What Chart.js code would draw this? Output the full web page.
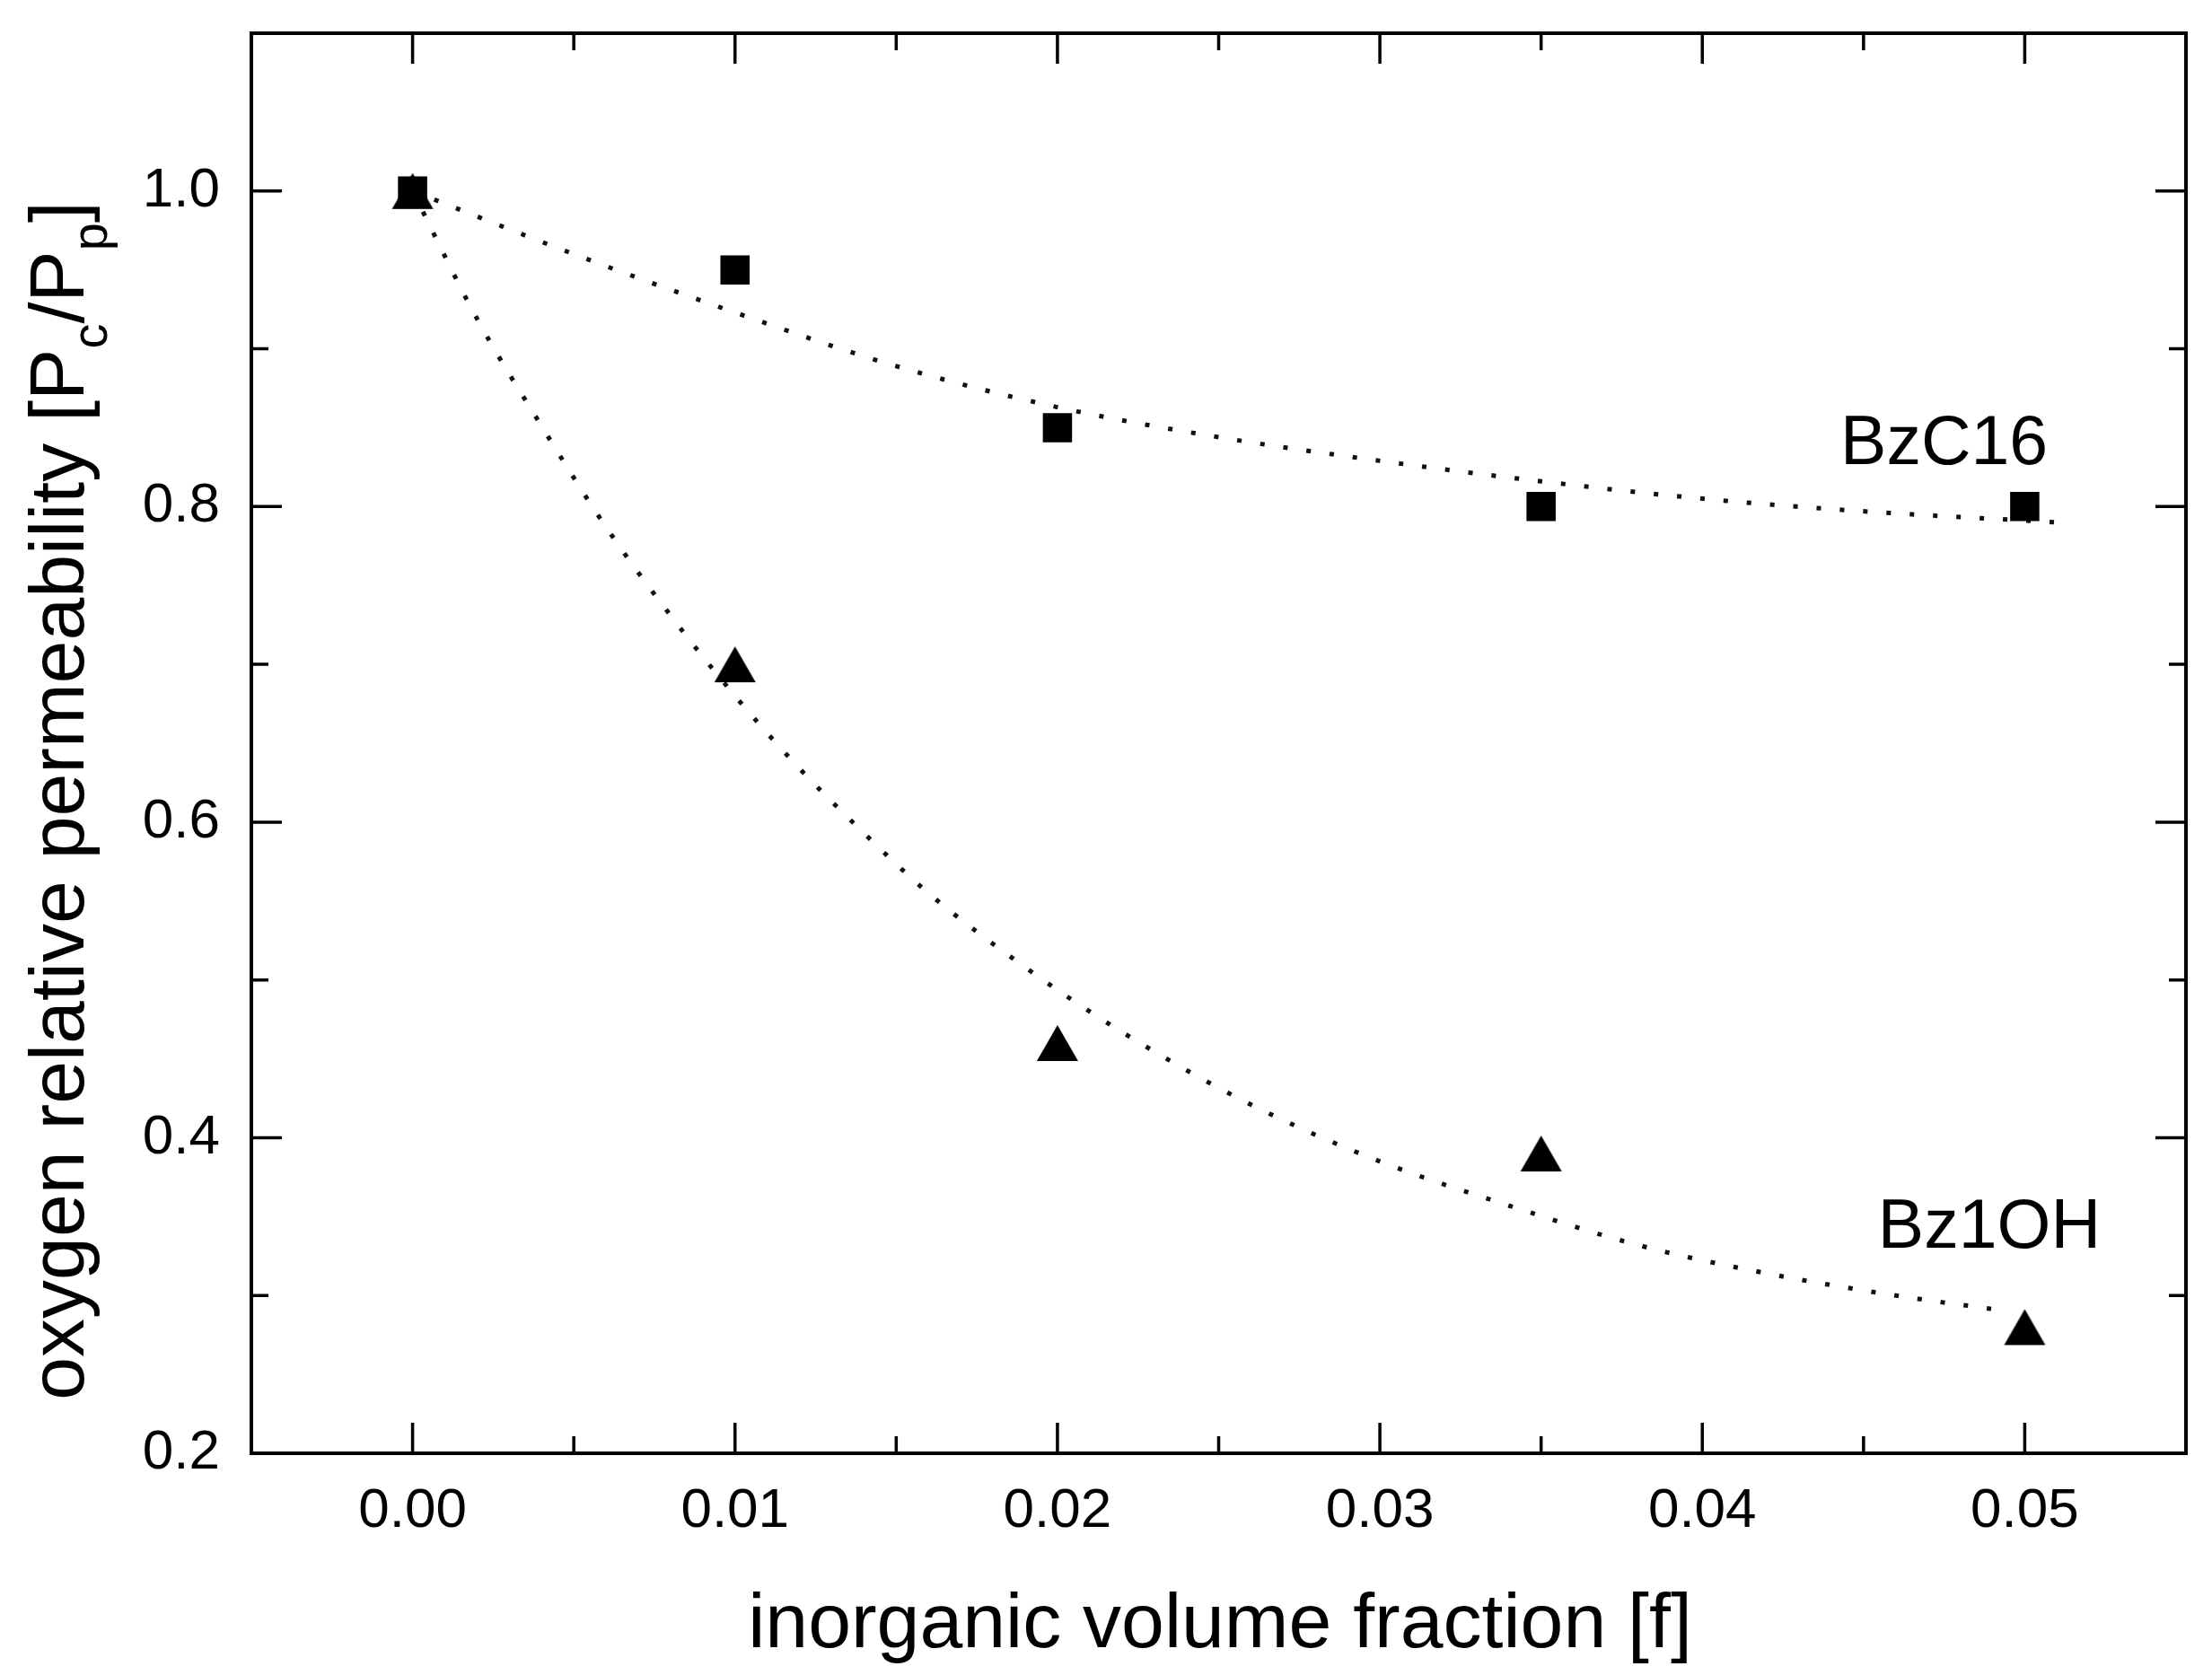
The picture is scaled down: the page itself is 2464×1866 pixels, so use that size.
<!DOCTYPE html>
<html><head><meta charset="utf-8">
<script src="https://cdn.jsdelivr.net/npm/chart.js@4.4.0/dist/chart.umd.min.js"></script>
<style>html,body{margin:0;padding:0;background:#fff;} canvas{display:block;}</style>
</head><body>
<canvas id="c" width="2464" height="1866" style="width:2464px;height:1866px"></canvas>
<script>
// ---- data ----
const bzc16X = [0, 0.01, 0.02, 0.035, 0.05];
const bzc16Y = [1.0, 0.95, 0.85, 0.80, 0.80];
const bz1ohX = [0, 0.01, 0.02, 0.035, 0.05];
const bz1ohY = [1.0, 0.70, 0.46, 0.39, 0.28];
const bzc16FitX = [0, 0.005, 0.01, 0.015, 0.02, 0.025, 0.03, 0.035, 0.04, 0.045, 0.051];
const bzc16FitY = [1.0, 0.960, 0.923, 0.889, 0.863, 0.844, 0.829, 0.816, 0.805, 0.797, 0.790];
const bz1ohFitX = [0, 0.002, 0.004, 0.006, 0.008, 0.010, 0.012, 0.014, 0.016, 0.019, 0.022, 0.026, 0.030, 0.034, 0.038, 0.042, 0.046, 0.0495];
const bz1ohFitY = [1.0, 0.919, 0.851, 0.787, 0.731, 0.680, 0.634, 0.593, 0.555, 0.508, 0.467, 0.421, 0.385, 0.357, 0.332, 0.314, 0.300, 0.290];
const seriesNames = ['BzC16', 'Bz1OH'];
const seriesLabelX = [0.0475, 0.0489];
const seriesLabelY = [0.827, 0.330];
const xTickValues = [0, 0.01, 0.02, 0.03, 0.04, 0.05];
const xTickLabels = ['0.00', '0.01', '0.02', '0.03', '0.04', '0.05'];
const xMinorTicks = [0.005, 0.015, 0.025, 0.035, 0.045];
const yTickValues = [0.2, 0.4, 0.6, 0.8, 1.0];
const yTickLabels = ['0.2', '0.4', '0.6', '0.8', '1.0'];
const yMinorTicks = [0.3, 0.5, 0.7, 0.9];
const xTitle = 'inorganic volume fraction [f]';
const yTitleParts = [['oxygen relative permeability [P', false], ['c', true], ['/P', false], ['p', true], [']', false]];

const FONT = '"Liberation Sans", Arial, Helvetica, sans-serif';
const toXY = (xs, ys) => xs.map((x, i) => ({x: x, y: ys[i]}));

// triangle marker centred on its bounding box
const tri = document.createElement('canvas');
tri.width = 48; tri.height = 42;
(function(){ const t = tri.getContext('2d'); t.fillStyle = '#000'; t.beginPath();
  t.moveTo(1, 41); t.lineTo(24, 1); t.lineTo(47, 41); t.closePath(); t.fill(); })();

const framePlugin = {
  id: 'frame',
  afterDatasetsDraw(chart) {
    const ctx = chart.ctx, a = chart.chartArea;
    const xs = chart.scales.x, ys = chart.scales.y;
    ctx.save();
    ctx.strokeStyle = '#000'; ctx.lineWidth = 4;
    ctx.strokeRect(a.left, a.top, a.right - a.left, a.bottom - a.top);
    ctx.lineWidth = 3.5;
    ctx.beginPath();
    const xt = (vals, len) => vals.forEach(v => { const p = xs.getPixelForValue(v);
      ctx.moveTo(p, a.bottom); ctx.lineTo(p, a.bottom - len);
      ctx.moveTo(p, a.top); ctx.lineTo(p, a.top + len); });
    const yt = (vals, len) => vals.forEach(v => { const p = ys.getPixelForValue(v);
      ctx.moveTo(a.left, p); ctx.lineTo(a.left + len, p);
      ctx.moveTo(a.right, p); ctx.lineTo(a.right - len, p); });
    xt(xTickValues, 34); xt(xMinorTicks, 19);
    yt(yTickValues, 34); yt(yMinorTicks, 19);
    ctx.stroke();
    // series labels
    ctx.fillStyle = '#000';
    ctx.font = '77px ' + FONT;
    ctx.textAlign = 'center'; ctx.textBaseline = 'alphabetic';
    seriesNames.forEach((n, i) => ctx.fillText(n, xs.getPixelForValue(seriesLabelX[i]), ys.getPixelForValue(seriesLabelY[i])));
    // x title
    ctx.font = '86px ' + FONT;
    ctx.fillText(xTitle, 1359, 1835);
    // y title with subscripts
    ctx.translate(93, 892);
    ctx.rotate(-Math.PI / 2);
    ctx.textAlign = 'left';
    let total = 0;
    yTitleParts.forEach(([t, sub]) => { ctx.font = (sub ? '56px ' : '86px ') + FONT; total += ctx.measureText(t).width; });
    let x = -total / 2;
    yTitleParts.forEach(([t, sub]) => { ctx.font = (sub ? '56px ' : '86px ') + FONT;
      ctx.fillText(t, x, sub ? 26 : 0); x += ctx.measureText(t).width; });
    ctx.restore();
  }
};

const dotted = {borderColor: '#111', borderWidth: 5, borderDash: [5, 21], pointRadius: 0,
  showLine: true, fill: false, cubicInterpolationMode: 'monotone', order: 2};

const noPad = s => { s.paddingTop = 0; s.paddingBottom = 0; s.paddingLeft = 0; s.paddingRight = 0; };

new Chart(document.getElementById('c'), {
  type: 'scatter',
  data: {
    datasets: [
      Object.assign({label: 'BzC16 fit', data: toXY(bzc16FitX, bzc16FitY)}, dotted),
      Object.assign({label: 'Bz1OH fit', data: toXY(bz1ohFitX, bz1ohFitY)}, dotted),
      {label: 'BzC16', data: toXY(bzc16X, bzc16Y), pointStyle: 'rect', pointRadius: 23,
        backgroundColor: '#000', borderWidth: 0, showLine: false, order: 0},
      {label: 'Bz1OH', data: toXY(bz1ohX, bz1ohY), pointStyle: tri, pointRadius: 24,
        backgroundColor: '#000', borderWidth: 0, showLine: false, order: 0}
    ]
  },
  options: {
    responsive: false, animation: false, devicePixelRatio: 1,
    layout: {padding: {top: 37, right: 29, left: 0, bottom: 0}},
    plugins: {legend: {display: false}, tooltip: {enabled: false}},
    scales: {
      x: {
        type: 'linear', min: -0.005, max: 0.055,
        grid: {display: false, drawTicks: false}, border: {display: false},
        ticks: {font: {size: 62, family: FONT}, color: '#000', padding: 28, maxRotation: 0,
          callback: (v, i) => xTickLabels[i]},
        afterBuildTicks: s => { s.ticks = xTickValues.map(v => ({value: v})); },
        afterFit: s => { s.height = 247; noPad(s); }
      },
      y: {
        type: 'linear', min: 0.2, max: 1.1,
        grid: {display: false, drawTicks: false}, border: {display: false},
        ticks: {font: {size: 62, family: FONT}, color: '#000', padding: 35,
          callback: (v, i) => yTickLabels[i]},
        afterBuildTicks: s => { s.ticks = yTickValues.map(v => ({value: v})); },
        afterFit: s => { s.width = 280; noPad(s); }
      }
    }
  },
  plugins: [framePlugin]
});
</script>
</body></html>
